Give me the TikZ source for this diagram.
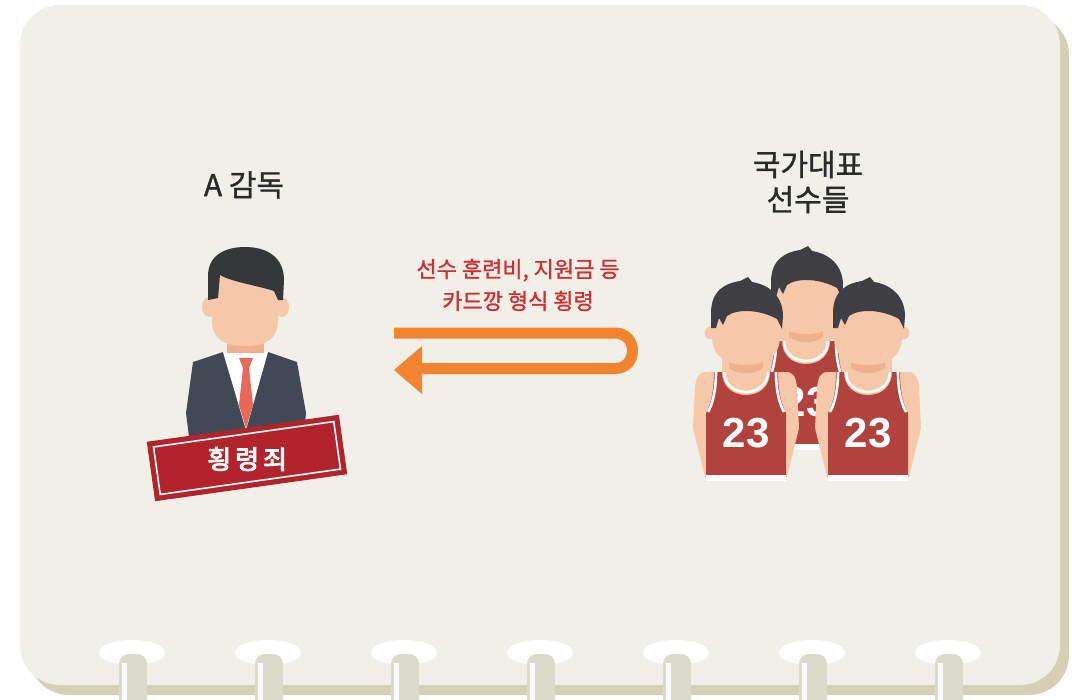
\documentclass[tikz,border=0pt]{standalone}
\usepackage{fontspec}
\newfontfamily\kr{Noto Sans CJK KR}[FakeBold=1.2]
\newfontfamily\krstamp{Noto Sans CJK KR}[FakeBold=3.5]
\newfontfamily\numfont{Liberation Sans}
\definecolor{card}{HTML}{F1F0E8}
\definecolor{cardshadow}{HTML}{D4D0B4}
\definecolor{ringpost}{HTML}{DCDACB}
\definecolor{arroworange}{HTML}{F28430}
\definecolor{labelred}{HTML}{D52B30}
\definecolor{stampred}{HTML}{B1242B}
\definecolor{suit}{HTML}{414A54}
\definecolor{hairdark}{HTML}{353838}
\definecolor{hairplayer}{HTML}{3E3E43}
\definecolor{skin}{HTML}{F5C8A9}
\definecolor{skinshade}{HTML}{EFB08E}
\definecolor{jersey}{HTML}{B0433D}
\definecolor{tie}{HTML}{E8695A}
\definecolor{heading}{HTML}{2A2A2A}
\tikzset{
  heading/.style={font=\kr\fontsize{30}{35}\selectfont, text=heading, align=center},
  redlabel/.style={font=\kr\fontsize{22}{32}\selectfont, text=labelred, align=center},
  player/.pic={
    % arms and chest
    \fill[skin] (-24,94) -- (-40,94) .. controls (-48,94) and (-50,100) .. (-51,110)
      -- (-53,150) -- (-41,199) -- (41,199) -- (53,150) -- (51,110)
      .. controls (50,100) and (48,94) .. (40,94) -- (24,94) -- (24,70) -- (-24,70) -- cycle;
    % shadow under the chin
    \fill[skinshade] (-17,80) -- (-17,90) .. controls (-8,97) and (8,97) .. (17,90) -- (17,80) -- cycle;
    % tank top
    \fill[jersey] (-32,94) .. controls (-32,115) and (-36,128) .. (-40,135) -- (-40,199)
      -- (40,199) -- (40,135) .. controls (36,128) and (32,115) .. (32,94) -- (24,94)
      .. controls (24,108) and (14,117) .. (0,117) .. controls (-14,117) and (-24,108) .. (-24,94) -- cycle;
    \draw[white, line width=2.6] (-30,94) .. controls (-30,114) and (-34,127) .. (-38,134);
    \draw[white, line width=2.6] (30,94) .. controls (30,114) and (34,127) .. (38,134);
    \draw[white, line width=2.6] (-22,94) .. controls (-22,106) and (-12,114) .. (0,114)
      .. controls (12,114) and (22,106) .. (22,94);
    \fill[white] (-40,197) rectangle (40,203);
    \node[font=\numfont\bfseries\fontsize{42}{42}\selectfont, text=white] at (0,155) {23};
    % head
    \fill[skin] (-35,55) circle[radius=6.5];
    \fill[skin] (35,55) circle[radius=6.5];
    \fill[skin] (-34,28) -- (-34,58) .. controls (-34,80) and (-18,87) .. (0,87)
      .. controls (18,87) and (34,80) .. (34,58) -- (34,28) -- cycle;
    \fill[hairplayer] (-35,50) -- (-35,35) .. controls (-35,12) and (-20,5) .. (-6,3)
      -- (2,-1) -- (6,4) .. controls (25,7) and (37,20) .. (37,38) -- (36,51)
      -- (31,41) .. controls (15,32) and (-8,30) .. (-19,38) -- (-23,47) -- (-27,40) -- (-30,50) -- cycle;
  }
}
\begin{document}
\begin{tikzpicture}[x=1pt,y=-1pt]
\useasboundingbox (0,0) rectangle (1075,699);
\fill[white] (0,0) rectangle (1075,699);
% card and its shadow
\fill[cardshadow, rounded corners=40] (29,15) rectangle (1069,695);
\fill[card, rounded corners=40] (20,5) rectangle (1060,685);
% binding rings
\foreach \c in {132,268,404,540,676,812,948}{
  \fill[white] (\c,652.5) ellipse[x radius=33, y radius=12.5];
  \fill[ringpost, rounded corners=10] (\c-13,705) -- (\c-13,654) -- (\c+15,654) -- (\c+15,705);
  \fill[white] (\c-10,663) rectangle (\c-5,700);
}
% headings
\node[heading] (coach) at (244,185) {A 감독};
\node[heading] (players) at (808,182) {국가대표\\선수들};
\node[redlabel] (flow) at (518,285) {선수 훈련비, 지원금 등\\카드깡 형식 횡령};
% U-turn arrow
\draw[arroworange, line width=11] (394,333) -- (615,333)
  .. controls (638.3,333) and (638.3,368.5) .. (615,368.5) -- (420,368.5);
\fill[arroworange] (394,370) -- (422,346) -- (422,394) -- cycle;
% coach figure
\fill[suit] (223,352) -- (193,362) -- (186,413) -- (190,445) -- (303,445) -- (306,413) -- (297,362) -- (268,352) -- cycle;
\fill[white] (223,352) -- (268,352) -- (246,430) -- cycle;
\fill[tie] (239,358) -- (253,358) -- (249,368) -- (253,405) -- (246,428) -- (239,405) -- (243,368) -- cycle;
\fill[skinshade] (227,338) rectangle (264,353);
\fill[skin] (209,307) ellipse[x radius=7, y radius=10];
\fill[skin] (282,307) ellipse[x radius=7, y radius=10];
\fill[skin] (212,272) -- (212,320) .. controls (212,340) and (225,346) .. (245,346)
  .. controls (265,346) and (278,340) .. (278,320) -- (278,272) -- cycle;
\fill[hairdark] (208,300) -- (208,276) .. controls (208,256) and (224,247) .. (245,247)
  .. controls (268,247) and (284,258) .. (284,280) -- (283,300) -- (278,300) -- (274,291)
  .. controls (255,285) and (232,282) .. (220,275) -- (218,298) -- cycle;
% stamp
\begin{scope}[shift={(247,458)}, rotate=8]
  \fill[stampred] (-97,-30) rectangle (97,30);
  \draw[white, line width=1.6] (-91,-24) rectangle (91,24);
  \node[font=\krstamp\fontsize{26}{28}\selectfont, text=white] (stamp) at (0,1) {횡\hspace{4pt}령\hspace{4pt}죄};
\end{scope}
% players
\pic at (806,247) {player};
\pic at (746,278) {player};
\pic at (868,278) {player};
\end{tikzpicture}
\end{document}
